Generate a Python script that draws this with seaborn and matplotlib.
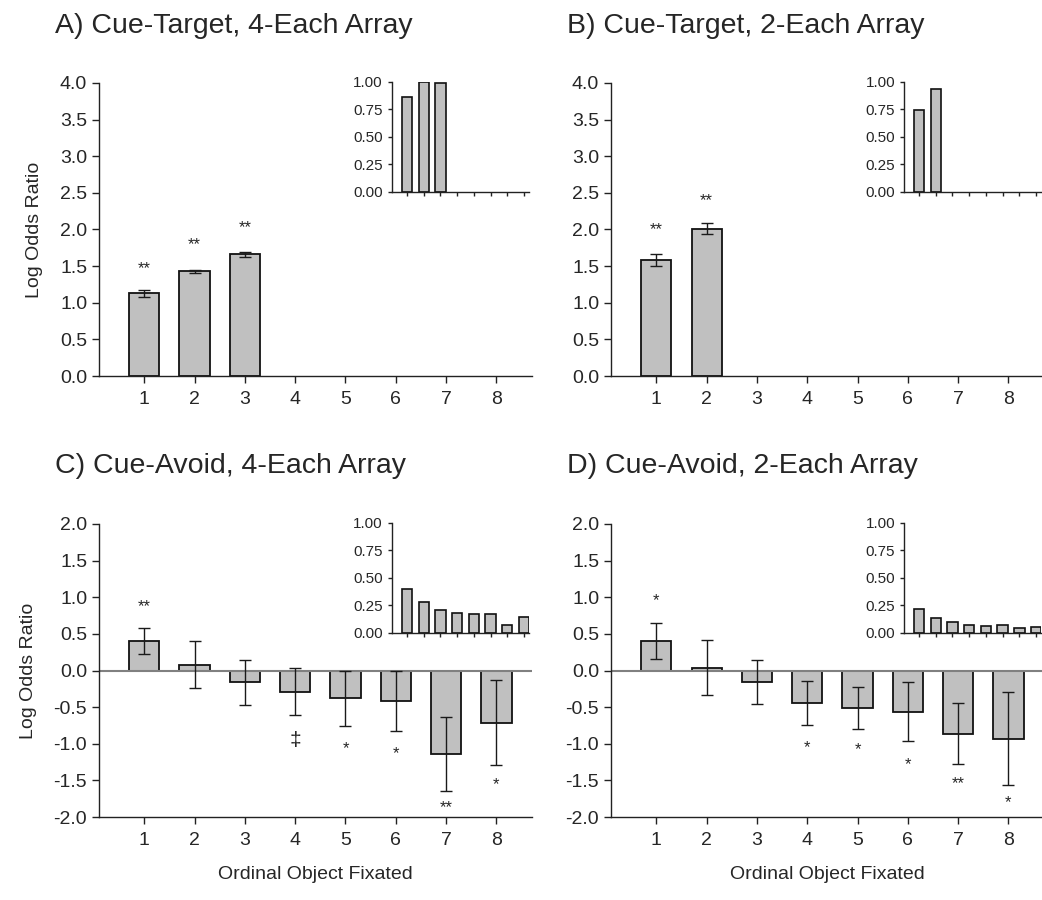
import numpy as np
import pandas as pd
from matplotlib import pyplot as plt
import seaborn as sns

# ordinal object fixated (1..8)
positions = ['1', '2', '3', '4', '5', '6', '7', '8']

# A) Cue-Target, 4-Each
a_vals = [1.13, 1.43, 1.66]
a_errs = [0.045, 0.02, 0.035]
a_marks = ['**', '**', '**']
a_mark_y = [1.47, 1.79, 2.03]
a_inset = [0.86, 1.00, 0.99]

# B) Cue-Target, 2-Each
b_vals = [1.58, 2.01]
b_errs = [0.085, 0.075]
b_marks = ['**', '**']
b_mark_y = [2.0, 2.39]
b_inset = [0.745, 0.935]

# C) Cue-Avoid, 4-Each
c_vals = [0.40, 0.08, -0.16, -0.29, -0.38, -0.42, -1.14, -0.71]
c_errs = [0.18, 0.32, 0.31, 0.32, 0.38, 0.41, 0.50, 0.58]
c_marks = ['**', '', '', '\u2021', '*', '*', '**', '*']
c_mark_y = [0.87, None, None, -0.95, -1.06, -1.13, -1.87, -1.56]
c_inset = [0.40, 0.286, 0.21, 0.178, 0.169, 0.169, 0.072, 0.148]

# D) Cue-Avoid, 2-Each
d_vals = [0.40, 0.04, -0.16, -0.44, -0.51, -0.56, -0.86, -0.93]
d_errs = [0.245, 0.375, 0.30, 0.30, 0.29, 0.40, 0.41, 0.63]
d_marks = ['*', '', '', '*', '*', '*', '**', '*']
d_mark_y = [0.96, None, None, -1.05, -1.08, -1.28, -1.55, -1.81]
d_inset = [0.217, 0.139, 0.102, 0.069, 0.066, 0.069, 0.042, 0.054]

titles = ['A) Cue-Target, 4-Each Array', 'B) Cue-Target, 2-Each Array',
          'C) Cue-Avoid, 4-Each Array', 'D) Cue-Avoid, 2-Each Array']

sns.set_style('ticks')
plt.rcParams['font.family'] = ['Liberation Sans', 'DejaVu Sans']

BAR = '#c0c0c0'
EDGE = '#111111'


def frame(vals):
    return pd.DataFrame({'pos': positions[:len(vals)], 'val': vals})


def style_axis(ax, color='#222222'):
    for s in ['top', 'right']:
        ax.spines[s].set_visible(False)
    for s in ['left', 'bottom']:
        ax.spines[s].set_color(color)
        ax.spines[s].set_linewidth(1.0)
    ax.tick_params(direction='out', color=color, width=1.0)


def main_panel(ax, vals, errs, marks, mark_y, ylim, yticks, zero_line):
    df = frame(vals)
    sns.barplot(data=df, x='pos', y='val', order=positions, ax=ax,
                color=BAR, edgecolor=EDGE, linewidth=1.3, width=0.6,
                saturation=1, errorbar=None)
    idx = np.arange(len(vals))
    ax.errorbar(idx, vals, yerr=errs, fmt='none', ecolor='#1a1a1a',
                elinewidth=1.0, capsize=4.5, capthick=1.0, zorder=3)
    for i, (m, y) in enumerate(zip(marks, mark_y)):
        if m:
            fs = 15 if m == '\u2021' else 12
            ax.text(i, y, m, ha='center', va='center', fontsize=fs)
    if zero_line:
        ax.axhline(0, color='#808080', lw=1.5, zorder=1)
    ax.set_xlim(-0.9, 7.7)
    ax.set_ylim(*ylim)
    ax.set_yticks(yticks)
    ax.set_yticklabels([f'{t:.1f}' for t in yticks])
    ax.set_xlabel('')
    ax.set_ylabel('')
    style_axis(ax)
    ax.tick_params(labelsize=14, length=5)
    ax.tick_params(axis='x', pad=6)


def inset_panel(ax, vals):
    df = frame(vals)
    sns.barplot(data=df, x='pos', y='val', order=positions, ax=ax,
                color=BAR, edgecolor=EDGE, linewidth=1.2, width=0.62,
                saturation=1, errorbar=None)
    ax.set_xlim(-0.9, 7.3)
    ax.set_ylim(0, 1.0)
    ax.set_yticks([0, 0.25, 0.5, 0.75, 1.0])
    ax.set_yticklabels(['0.00', '0.25', '0.50', '0.75', '1.00'])
    ax.set_xticklabels([])
    ax.set_xlabel('')
    ax.set_ylabel('')
    ax.patch.set_alpha(0)
    style_axis(ax)
    ax.tick_params(labelsize=11, length=3)


fig = plt.figure(figsize=(10.42, 9.0), dpi=100)

mw, mh = 0.4152, 0.3256
iw, ih = 0.1315, 0.1222
lefts = [0.0950, 0.5864]
bottoms = [0.5822, 0.0922]
in_lefts = [0.3762, 0.8676]
in_bottoms = [0.7867, 0.2967]
title_y = [0.963, 0.4744]
title_x = [0.053, 0.544]

panels = [
    (a_vals, a_errs, a_marks, a_mark_y, a_inset),
    (b_vals, b_errs, b_marks, b_mark_y, b_inset),
    (c_vals, c_errs, c_marks, c_mark_y, c_inset),
    (d_vals, d_errs, d_marks, d_mark_y, d_inset),
]

for k, (vals, errs, marks, my, ins) in enumerate(panels):
    row, col = divmod(k, 2)
    ax = fig.add_axes([lefts[col], bottoms[row], mw, mh])
    if row == 0:
        main_panel(ax, vals, errs, marks, my, (0, 4.0), np.arange(0, 4.01, 0.5), False)
    else:
        main_panel(ax, vals, errs, marks, my, (-2.0, 2.0), np.arange(-2, 2.01, 0.5), True)
        ax.set_xlabel('Ordinal Object Fixated', fontsize=14, labelpad=12)
    if col == 0:
        ax.set_ylabel('Log Odds Ratio', fontsize=14, labelpad=12)
    axi = fig.add_axes([in_lefts[col], in_bottoms[row], iw, ih])
    inset_panel(axi, ins)
    fig.text(title_x[col], title_y[row], titles[k], fontsize=20.5,
             va='baseline', ha='left')

fig.savefig('out.png', dpi=100)
